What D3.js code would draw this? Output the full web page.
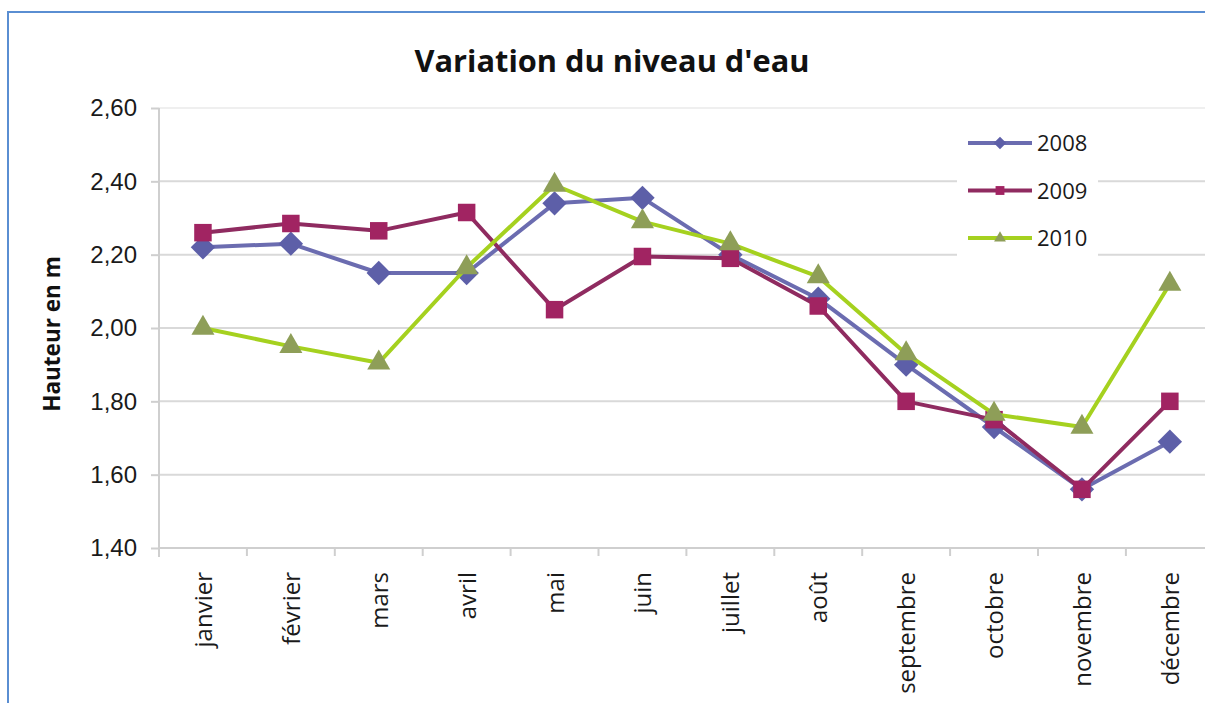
<!DOCTYPE html>
<html>
<head>
<meta charset="utf-8">
<script src="https://cdn.jsdelivr.net/npm/d3@7"></script>
<style>
  html, body { margin: 0; padding: 0; background: #fff; }
  svg { display: block; font-family: "Open Sans", "Noto Sans", sans-serif; }
</style>
</head>
<body>
<svg id="chart" width="1205" height="703"></svg>
<script>
// Monthly water level (m), three years
const months = ["janvier", "février", "mars", "avril", "mai", "juin",
  "juillet", "août", "septembre", "octobre", "novembre", "décembre"];
const years = ["2008", "2009", "2010"];
const level2008 = [2.22, 2.23, 2.15, 2.15, 2.34, 2.355, 2.20, 2.08, 1.90, 1.73, 1.56, 1.69];
const level2009 = [2.26, 2.285, 2.265, 2.315, 2.05, 2.195, 2.19, 2.06, 1.80, 1.75, 1.56, 1.80];
const level2010 = [2.00, 1.95, 1.905, 2.165, 2.39, 2.29, 2.23, 2.14, 1.93, 1.765, 1.73, 2.12];
const yTicks = [1.4, 1.6, 1.8, 2.0, 2.2, 2.4, 2.6];

const seriesStyle = {
  "2008": { line: "#6B6CB0", fill: "#5D5FA8", shape: d3.symbolDiamond2, size: 380 },
  "2009": { line: "#8F2B60", fill: "#A12462", shape: d3.symbolSquare2, size: 390 },
  "2010": { line: "#A5D11F", fill: "#8E9E58", shape: d3.symbolTriangle2, size: 380 }
};
const series = [
  { name: years[0], values: level2008 },
  { name: years[1], values: level2009 },
  { name: years[2], values: level2010 }
];

const svg = d3.select("#chart");
const plot = { left: 159, top: 108, bottom: 548, right: 1205 };
const band = 87.9;

// Outer frame (top and left edges visible)
svg.append("path")
  .attr("d", "M8,703 L8,12 L1205,12")
  .attr("fill", "none").attr("stroke", "#5A8ED2").attr("stroke-width", 2);

const y = d3.scaleLinear().domain([1.4, 2.6]).range([plot.bottom, plot.top]);
const x = d3.scaleBand().domain(months)
  .range([plot.left, plot.left + band * months.length]).padding(0);
const cx = m => x(m) + x.bandwidth() / 2;

// Horizontal gridlines
svg.append("g").selectAll("line").data(yTicks.filter(t => t > 1.4)).join("line")
  .attr("x1", plot.left).attr("x2", plot.right)
  .attr("y1", d => y(d)).attr("y2", d => y(d))
  .attr("stroke", d => d === 2.6 ? "#efefef" : "#d9d9d9").attr("stroke-width", 2);

// Y axis
const yAxis = svg.append("g").attr("transform", `translate(${plot.left},0)`)
  .call(d3.axisLeft(y).tickValues(yTicks).tickSize(8).tickPadding(14)
    .tickFormat(d => d3.format(".2f")(d).replace(".", ",")));
yAxis.select(".domain").remove();
yAxis.selectAll(".tick line").attr("stroke", "#cfcfcf").attr("stroke-width", 2);
yAxis.selectAll("text").attr("font-size", 24).attr("fill", "#1a1a1a");
svg.append("line").attr("x1", plot.left).attr("x2", plot.left)
  .attr("y1", plot.top).attr("y2", plot.bottom + 9)
  .attr("stroke", "#cfcfcf").attr("stroke-width", 2);

// X axis: baseline, ticks between categories, rotated month labels
svg.append("line").attr("x1", plot.left).attr("x2", plot.right)
  .attr("y1", plot.bottom).attr("y2", plot.bottom)
  .attr("stroke", "#cfcfcf").attr("stroke-width", 2);
svg.append("g").selectAll("line").data(months.slice(1)).join("line")
  .attr("x1", d => x(d)).attr("x2", d => x(d))
  .attr("y1", plot.bottom).attr("y2", plot.bottom + 8)
  .attr("stroke", "#cfcfcf").attr("stroke-width", 2);
svg.append("g").selectAll("text").data(months).join("text")
  .attr("transform", d => `translate(${cx(d) + 9},${plot.bottom + 24}) rotate(-90)`)
  .attr("text-anchor", "end")
  .attr("font-size", 24).attr("fill", "#1a1a1a")
  .text(d => d);

// Y axis title
svg.append("text")
  .attr("transform", `translate(60,${(plot.top + plot.bottom) / 2 + 6}) rotate(-90)`)
  .attr("text-anchor", "middle").attr("font-size", 22.5).attr("font-weight", 700)
  .attr("fill", "#111").text("Hauteur en m");

// Chart title
svg.append("text")
  .attr("x", 612).attr("y", 72).attr("text-anchor", "middle")
  .attr("font-size", 30).attr("font-weight", 700).attr("fill", "#111")
  .attr("textLength", 395).attr("lengthAdjust", "spacingAndGlyphs")
  .text("Variation du niveau d'eau");

// Series lines and markers
const line = d3.line().x((d, i) => cx(months[i])).y(d => y(d));
series.forEach(s => {
  const st = seriesStyle[s.name];
  const g = svg.append("g");
  g.append("path").datum(s.values)
    .attr("d", line).attr("fill", "none")
    .attr("stroke", st.line).attr("stroke-width", 4).attr("stroke-linejoin", "round");
  g.selectAll("path.mk").data(s.values).join("path")
    .attr("class", "mk")
    .attr("transform", (d, i) => `translate(${cx(months[i])},${y(d)})`)
    .attr("d", d3.symbol().type(st.shape).size(st.size))
    .attr("fill", st.fill);
});

// Legend
const legend = svg.append("g");
legend.append("rect").attr("x", 957).attr("y", 117).attr("width", 141).attr("height", 146)
  .attr("fill", "#fff");
series.forEach((s, i) => {
  const st = seriesStyle[s.name];
  const ly = 143 + i * 47.5;
  legend.append("line").attr("x1", 968).attr("x2", 1032).attr("y1", ly).attr("y2", ly)
    .attr("stroke", st.line).attr("stroke-width", 4);
  legend.append("path").attr("transform", `translate(1000,${ly})`)
    .attr("d", d3.symbol().type(st.shape).size(100)).attr("fill", st.fill);
  legend.append("text").attr("x", 1037).attr("y", ly + 8)
    .attr("font-size", 22).attr("fill", "#1a1a1a").text(s.name);
});
</script>
</body>
</html>
